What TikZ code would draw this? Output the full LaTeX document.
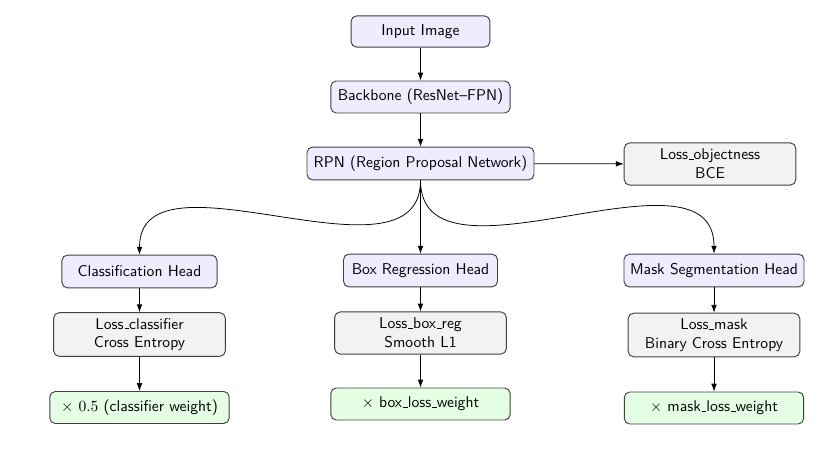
\documentclass[tikz,border=0pt]{standalone}
\usetikzlibrary{arrows.meta}
\newcommand\us{\leavevmode\kern.06em\vbox{\hrule width.3em}}
\begin{document}
\begin{tikzpicture}[x=0.641pt,y=-0.641pt,
  font=\sffamily,
  basebox/.style={draw=black!75, line width=0.6pt, rounded corners=3.5pt, align=center, inner sep=3pt},
  headbox/.style={basebox, fill=blue!7, minimum height=21pt},
  lossbox/.style={basebox, fill=black!5, minimum width=110pt, minimum height=28pt},
  wbox/.style={basebox, fill=green!10, minimum width=115pt, minimum height=20.5pt},
  conn/.style={-{Latex[length=5pt,width=3.6pt]}, line width=0.5pt}
]
\useasboundingbox (0,0) rectangle (819,453);
\node[headbox, minimum width=89pt, minimum height=20pt] (inp) at (420.5,31.5) {Input Image};
\node[headbox, minimum width=115pt, minimum height=20.5pt] (bb) at (420.5,97) {Backbone (ResNet--FPN)};
\node[headbox, minimum width=145.5pt] (rpn) at (420.5,163.5) {RPN (Region Proposal Network)};
\node[lossbox, minimum height=27pt] (lobj) at (710,164) {Loss\us objectness\\BCE};
\node[headbox, minimum width=99.4pt] (cls) at (139.5,271.5) {Classification Head};
\node[headbox, minimum width=98.7pt] (box) at (420.5,270.5) {Box Regression Head};
\node[headbox, minimum width=115.4pt] (mask) at (714,270.5) {Mask Segmentation Head};
\node[lossbox] (lcls) at (139.5,334.5) {Loss\us classifier\\Cross Entropy};
\node[lossbox, minimum height=27pt] (lbox) at (420.5,333) {Loss\us box\us reg\\Smooth L1};
\node[lossbox] (lmask) at (714,335) {Loss\us mask\\Binary Cross Entropy};
\node[wbox] (wcls) at (139.5,407.5) {$\times$ $0.5$ (classifier weight)};
\node[wbox] (wbox) at (420.5,404) {$\times$ box\us loss\us weight};
\node[wbox] (wmask) at (714,408) {$\times$ mask\us loss\us weight};
\draw[conn] (inp) -- (bb);
\draw[conn] (bb) -- (rpn);
\draw[conn] (rpn) -- (lobj);
\draw[conn] (rpn.south) to[out=-90,in=90] (cls.north);
\draw[conn] (rpn.south) -- (box.north);
\draw[conn] (rpn.south) to[out=-90,in=90] (mask.north);
\draw[conn] (cls) -- (lcls);
\draw[conn] (box) -- (lbox);
\draw[conn] (mask) -- (lmask);
\draw[conn] (lcls) -- (wcls);
\draw[conn] (lbox) -- (wbox);
\draw[conn] (lmask) -- (wmask);
\end{tikzpicture}
\end{document}
